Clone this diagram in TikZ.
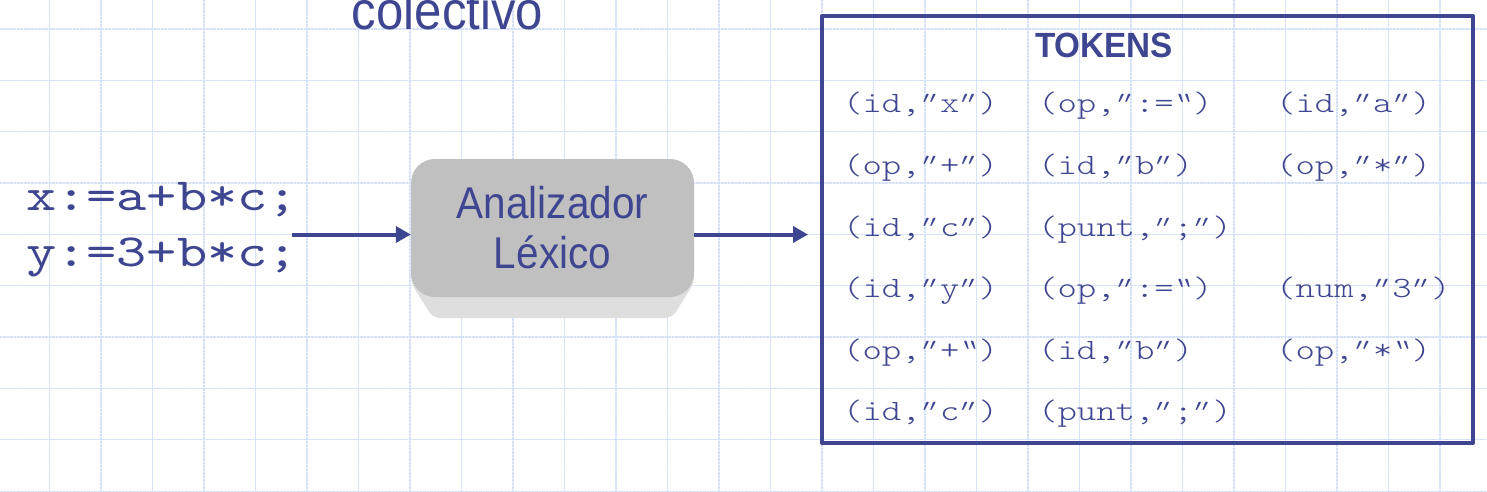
\documentclass[tikz,border=0pt]{standalone}
\usepackage{fontspec}
\usepackage{tikz}
\usetikzlibrary{arrows.meta}
\newfontfamily\codefont[FakeStretch=1.25]{lmmono10-regular.otf}
\newfontfamily\tokfont[FakeStretch=1.25]{lmmonolt10-regular.otf}
\newfontfamily\qfont[FakeStretch=1.25,FakeSlant=0.45]{lmmonolt10-regular.otf}
\newfontfamily\qbackfont[FakeStretch=1.25,FakeSlant=-0.35]{lmmonolt10-regular.otf}
\newfontfamily\narrowsans[FakeStretch=0.91]{Liberation Sans}
\newfontfamily\titlesans[FakeStretch=0.95]{Liberation Sans}
\newcommand{\qq}{\kern-0.25em{\qfont"}\kern0.25em}
\newcommand{\qb}{\kern0.2em{\qbackfont"}\kern-0.2em}
\definecolor{inkblue}{RGB}{63,70,145}
\definecolor{gridblue}{RGB}{212,223,248}
\definecolor{lexgray}{RGB}{192,192,192}
\definecolor{lexbevel}{RGB}{222,222,222}
\tikzset{
  gridline/.style={draw=gridblue, line width=1.3pt, dash pattern=on 2pt off 1.5pt},
  tok/.style={anchor=base west, inner sep=0pt, text=inkblue,
    font=\tokfont\fontsize{29.5}{30}\selectfont},
  codeline/.style={anchor=base west, inner sep=0pt, text=inkblue,
    font=\codefont\fontsize{46}{50}\selectfont},
  lexbox/.style={fill=lexgray, rounded corners=24pt, minimum width=283pt,
    minimum height=138pt, inner sep=0pt, align=center, text=inkblue,
    font=\narrowsans\fontsize{44.5}{50}\selectfont},
  arr/.style={draw=inkblue, line width=4pt, line cap=butt,
    -{Triangle[length=15pt,width=16pt]}}
}
\begin{document}
\begin{tikzpicture}[x=1pt,y=-1pt, line cap=round, line join=round]
\useasboundingbox (0,0) rectangle (1487,492);
\clip (0,0) rectangle (1487,492);
\fill[white] (0,0) rectangle (1487,492);
% grid
\foreach \gx in {-2,49.5,...,1495}
  \draw[gridline] (\gx,0) -- (\gx,492);
\foreach \gy in {29,80.35,...,495}
  \draw[gridline] (0,\gy) -- (1487,\gy);
% title, cut at the top
\node[anchor=base, inner sep=0pt, text=inkblue,
  font=\narrowsans\fontsize{54}{60}\selectfont] (colectivo) at (447.5,30) {colectivo};
% source code
\node[codeline] (codeA) at (26,210) {x:=a+b*c;};
\node[codeline] (codeB) at (26,266) {y:=3+b*c;};
\coordinate (mid) at (0,234.5);
% tokens box
\node[draw=inkblue, line width=4pt, minimum width=651pt, minimum height=427pt,
  inner sep=0pt] (tokens) at (1147.5,229.5) {};
\node[anchor=base, inner sep=0pt, text=inkblue,
  font=\titlesans\bfseries\fontsize{35}{40}\selectfont] (toktitle) at (1104,58) {TOKENS};
\node[tok] (t11) at (843,113) {(id,\qq x\qq)};
\node[tok] (t12) at (1038,113) {(op,\qq:=\qb)};
\node[tok] (t13) at (1276,113) {(id,\qq a\qq)};
\node[tok] (t21) at (843,174.5) {(op,\qq+\qq)};
\node[tok] (t22) at (1038,174.5) {(id,\qq b\qq)};
\node[tok] (t23) at (1276,174.5) {(op,\qq*\qq)};
\node[tok] (t31) at (843,236) {(id,\qq c\qq)};
\node[tok] (t32) at (1038,236) {(punt,\qq;\qq)};
\node[tok] (t41) at (843,297.5) {(id,\qq y\qq)};
\node[tok] (t42) at (1038,297.5) {(op,\qq:=\qb)};
\node[tok] (t43) at (1276,297.5) {(num,\qq3\qq)};
\node[tok] (t51) at (843,359) {(op,\qq+\qb)};
\node[tok] (t52) at (1038,359) {(id,\qq b\qq)};
\node[tok] (t53) at (1276,359) {(op,\qq*\qb)};
\node[tok] (t61) at (843,420.5) {(id,\qq c\qq)};
\node[tok] (t62) at (1038,420.5) {(punt,\qq;\qq)};
% analizador
\fill[lexbevel, rounded corners=7pt] (411,240) -- (411,283) -- (433,318)
  -- (672,318) -- (694,283) -- (694,240) -- cycle;
\node[lexbox] (lexer) at (552.5,228) {Analizador\\Léxico};
% arrows
\draw[arr] ([xshift=-6pt]codeA.east |- mid) -- (lexer.west |- mid);
\draw[arr, shorten >=12pt] (lexer.east |- mid) -- (tokens.west |- mid);
\end{tikzpicture}
\end{document}
